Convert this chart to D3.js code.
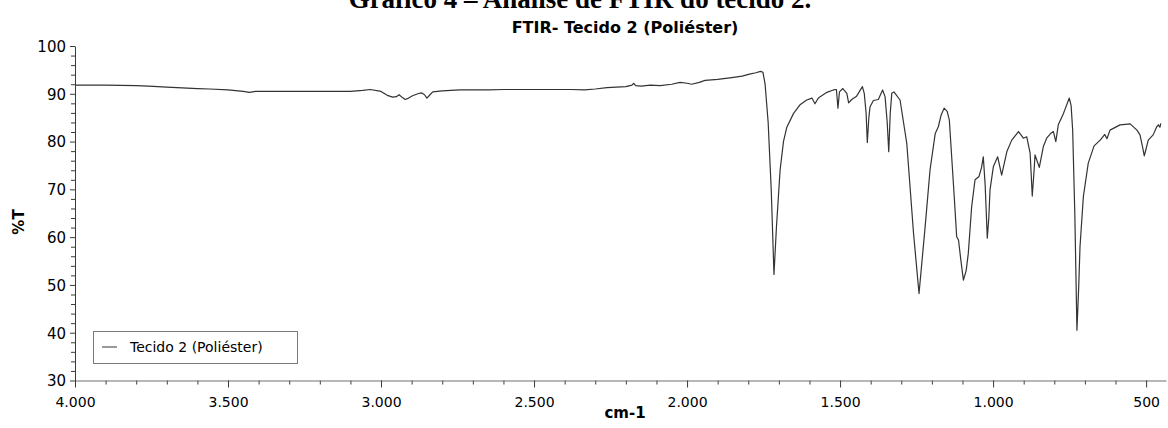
<!DOCTYPE html>
<html>
<head>
<meta charset="utf-8">
<script src="https://cdn.jsdelivr.net/npm/d3@7"></script>
<style>
  html, body { margin: 0; padding: 0; background: #fff; }
  svg { display: block; }
</style>
</head>
<body>
<svg id="chart" width="1168" height="428"></svg>
<script>
// FTIR spectrum of fabric sample 2 (polyester): wavenumber (cm-1) and transmittance (%T)
const wavenumbers = [
  4000, 3900, 3800, 3760, 3700, 3600, 3560, 3500, 3450, 3430, 3410, 3300, 3200, 3100, 3060, 3035,
  3000, 2977, 2962, 2950, 2941, 2930, 2921, 2910, 2897, 2880, 2868, 2858, 2850, 2840, 2831, 2800,
  2743, 2650, 2598, 2500, 2452, 2380, 2335, 2300, 2262, 2200, 2180, 2174, 2168, 2150, 2120, 2088,
  2050, 2023, 2000, 1985, 1960, 1941, 1900, 1854, 1820, 1796, 1775, 1760, 1752, 1745, 1735, 1725,
  1716, 1708, 1696, 1685, 1674, 1652, 1631, 1609, 1592, 1582, 1572, 1565, 1543, 1522, 1512, 1507,
  1502, 1491, 1478, 1472, 1462, 1446, 1427, 1421, 1415, 1411, 1406, 1402, 1391, 1375, 1361, 1353,
  1346, 1341, 1336, 1331, 1324, 1304, 1282, 1260, 1242, 1222, 1206, 1189, 1179, 1170, 1160, 1150,
  1143, 1127, 1119, 1113, 1105, 1097, 1088, 1081, 1070, 1059, 1046, 1038, 1032, 1026, 1019, 1014,
  1010, 999, 985, 972, 955, 939, 917, 901, 890, 879, 872, 866, 863, 849, 836, 825,
  810, 803, 795, 787, 770, 751, 745, 740, 733, 726, 720, 716, 705, 689, 670, 650,
  635, 628, 618, 585, 552, 530, 520, 512, 506, 500, 493, 477, 466, 460, 455, 452
];
const transmittance = [
  91.8, 91.8, 91.7, 91.6, 91.4, 91.1, 91.0, 90.8, 90.5, 90.3, 90.5, 90.5, 90.5, 90.5, 90.7, 90.9,
  90.5, 89.6, 89.3, 89.4, 89.8, 89.2, 88.8, 89.1, 89.6, 90.0, 90.2, 89.8, 89.1, 89.8, 90.4, 90.6,
  90.8, 90.8, 90.9, 90.9, 90.9, 90.9, 90.8, 91.0, 91.3, 91.5, 91.8, 92.2, 91.7, 91.6, 91.8, 91.7,
  92.0, 92.4, 92.2, 92.0, 92.4, 92.8, 93.0, 93.4, 93.7, 94.1, 94.4, 94.7, 94.5, 92.0, 84.0, 70.0,
  52.2, 62.0, 74.0, 80.0, 83.0, 85.9, 87.7, 88.7, 89.1, 87.9, 89.0, 89.4, 90.3, 90.8, 90.9, 87.0,
  90.4, 91.1, 90.1, 88.1, 88.8, 89.5, 91.5, 90.1, 86.0, 79.8, 85.0, 87.3, 88.6, 88.8, 90.8, 89.4,
  84.0, 77.9, 86.0, 90.1, 90.4, 88.7, 79.6, 60.8, 48.2, 62.2, 74.1, 81.7, 83.1, 85.5, 87.0, 86.3,
  84.5, 68.5, 60.1, 59.4, 55.0, 51.0, 53.0, 56.6, 66.4, 72.0, 72.7, 74.5, 76.8, 71.0, 59.8, 64.0,
  69.9, 74.8, 76.8, 73.0, 77.9, 80.3, 82.1, 80.7, 81.0, 77.6, 68.6, 74.0, 77.2, 74.6, 78.9, 80.7,
  81.8, 82.1, 80.0, 83.5, 85.9, 89.1, 87.5, 82.4, 65.0, 40.5, 50.0, 58.0, 68.5, 75.5, 79.1, 80.3,
  81.5, 80.6, 82.4, 83.5, 83.7, 82.4, 81.4, 79.0, 77.0, 78.5, 80.3, 81.4, 83.0, 83.5, 83.0, 83.8
];

const xTickValues = [4000, 3500, 3000, 2500, 2000, 1500, 1000, 500];
const xTickLabels = ["4.000", "3.500", "3.000", "2.500", "2.000", "1.500", "1.000", "500"];
const yTickValues = [30, 40, 50, 60, 70, 80, 90, 100];

const titleText = "FTIR- Tecido 2 (Poliéster)";
const captionText = "Gráfico 4 – Análise de FTIR do tecido 2.";
const seriesName = "Tecido 2 (Poliéster)";
const xTitle = "cm-1";
const yTitle = "%T";

const svg = d3.select("#chart");
const fontFamily = "'DejaVu Sans', Verdana, sans-serif";

const x = d3.scaleLinear().domain([4000, 435]).range([75, 1166]);
const y = d3.scaleLinear().domain([30, 100]).range([380.5, 46]);

const axisColor = "#3a3a3a";

// document caption above the chart, running off the top edge
svg.append("text")
  .attr("x", 580).attr("y", 8)
  .attr("text-anchor", "middle")
  .attr("font-family", "'Liberation Serif', serif")
  .attr("font-weight", "bold")
  .attr("font-size", 27)
  .attr("fill", "#000")
  .text(captionText);

// chart title
svg.append("text")
  .attr("x", 625).attr("y", 33)
  .attr("text-anchor", "middle")
  .attr("font-family", fontFamily)
  .attr("font-weight", "bold")
  .attr("font-size", 16)
  .attr("fill", "#000")
  .text(titleText);

// x axis: major ticks every 500, minor every 100
const xMinor = d3.range(4000, 434, -100).filter(v => v % 500 !== 0);
const xAxisG = svg.append("g").attr("transform", `translate(0,${y(30)})`);
xAxisG.append("g")
  .call(d3.axisBottom(x).tickValues(xMinor).tickSize(4).tickFormat(""))
  .call(g => g.select(".domain").remove());
xAxisG.append("g")
  .call(d3.axisBottom(x).tickValues(xTickValues).tickSize(7).tickSizeOuter(0)
    .tickFormat((d, i) => xTickLabels[i]))
  .call(g => g.selectAll("text").attr("dy", "0").attr("y", 26));
xAxisG.selectAll("line").attr("stroke", axisColor);
xAxisG.selectAll(".domain").attr("stroke", "#6e6e6e");
xAxisG.selectAll("text")
  .attr("font-family", fontFamily).attr("font-size", 14).attr("fill", "#000");

// y axis: major ticks every 10, minor every 2
const yMinor = d3.range(30, 100.1, 2).filter(v => v % 10 !== 0);
const yAxisG = svg.append("g").attr("transform", `translate(${x(4000)},0)`);
yAxisG.append("g")
  .call(d3.axisLeft(y).tickValues(yMinor).tickSize(4).tickFormat(""))
  .call(g => g.select(".domain").remove());
yAxisG.append("g")
  .call(d3.axisLeft(y).tickValues(yTickValues).tickSize(5).tickSizeOuter(0)
    .tickFormat(d3.format("d")))
  .call(g => g.selectAll("text").attr("x", -9).attr("dy", "0.36em"));
yAxisG.selectAll("line").attr("stroke", axisColor);
yAxisG.selectAll(".domain").attr("stroke", axisColor);
yAxisG.selectAll("text")
  .attr("font-family", fontFamily).attr("font-size", 15).attr("fill", "#000");

// axis titles
svg.append("text")
  .attr("x", 625).attr("y", 418)
  .attr("text-anchor", "middle")
  .attr("font-family", fontFamily).attr("font-weight", "bold")
  .attr("font-size", 15).attr("fill", "#000")
  .text(xTitle);
svg.append("text")
  .attr("transform", "translate(24,222) rotate(-90)")
  .attr("text-anchor", "middle")
  .attr("font-family", fontFamily).attr("font-weight", "bold")
  .attr("font-size", 15).attr("fill", "#000")
  .text(yTitle);

// spectrum line
const points = wavenumbers.map((w, i) => [w, transmittance[i]]);
const line = d3.line().x(d => x(d[0])).y(d => y(d[1]));
svg.append("path")
  .datum(points)
  .attr("fill", "none")
  .attr("stroke", "#333")
  .attr("stroke-width", 1.2)
  .attr("stroke-linejoin", "round")
  .attr("d", line);

// legend
const legend = svg.append("g").attr("transform", "translate(93,331)");
legend.append("rect")
  .attr("x", 0.5).attr("y", 0.5).attr("width", 204).attr("height", 32)
  .attr("fill", "#fff").attr("stroke", "#7a7a7a").attr("stroke-width", 1);
legend.append("line")
  .attr("x1", 9).attr("x2", 24).attr("y1", 16).attr("y2", 16)
  .attr("stroke", "#555").attr("stroke-width", 1.2);
legend.append("text")
  .attr("x", 37).attr("y", 21)
  .attr("font-family", fontFamily).attr("font-size", 14).attr("fill", "#000")
  .text(seriesName);
</script>
</body>
</html>
